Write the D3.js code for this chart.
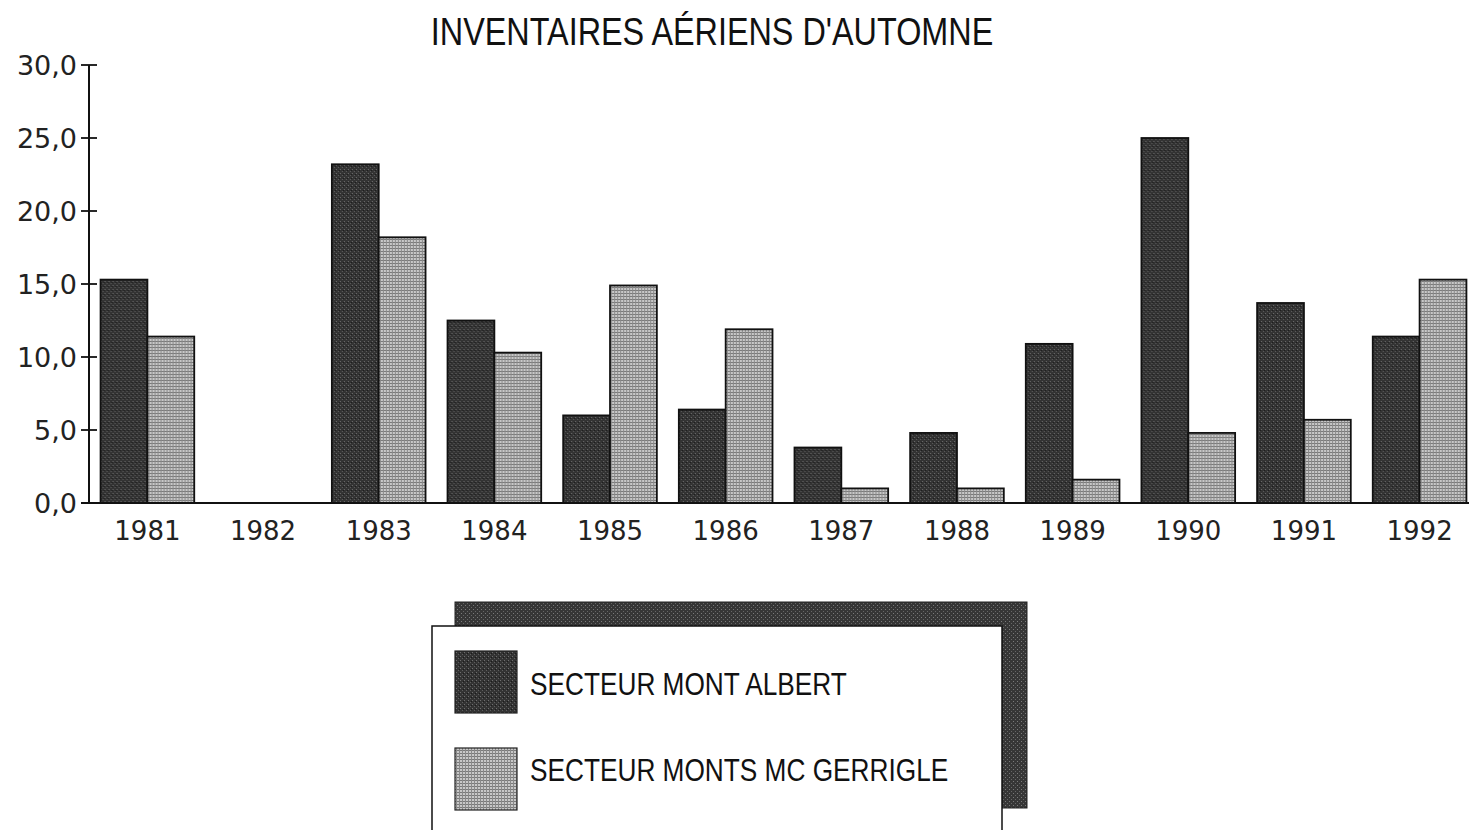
<!DOCTYPE html>
<html>
<head>
<meta charset="utf-8">
<script src="https://d3js.org/d3.v7.min.js"></script>
<style>
	body { margin: 0; background: #fff; }
	svg { display: block; }
	.tick-label { font-family: "DejaVu Sans", "Noto Sans", sans-serif; fill: #222; }
	.narrow { font-family: "Liberation Sans", Arial, sans-serif; fill: #111; }
</style>
</head>
<body>
<div id="chart"></div>
<script>
	var years = ["1981", "1982", "1983", "1984", "1985", "1986", "1987", "1988", "1989", "1990", "1991", "1992"];
	var montAlbert = [15.3, null, 23.2, 12.5, 6.0, 6.4, 3.8, 4.8, 10.9, 25.0, 13.7, 11.4];
	var mcGerrigle = [11.4, null, 18.2, 10.3, 14.9, 11.9, 1.0, 1.0, 1.6, 4.8, 5.7, 15.3];
	var seriesNames = ["SECTEUR MONT ALBERT", "SECTEUR MONTS MC GERRIGLE"];
	var yTicks = [0, 5, 10, 15, 20, 25, 30];

	var W = 1469, H = 830;
	var margin = { top: 65, left: 89, bottom: 327, right: 0 };
	var plotW = 1389, plotH = H - margin.top - margin.bottom;

	// helvetica narrow look: regular sans squeezed horizontally
	var squeeze = 0.83;

	var svg = d3.select("#chart").append("svg")
		.attr("width", W)
		.attr("height", H);

	var defs = svg.append("defs");

	// dark speckled texture
	var pDark = defs.append("pattern")
		.attr("id", "darkFill")
		.attr("width", 4).attr("height", 4)
		.attr("patternUnits", "userSpaceOnUse");
	pDark.append("rect").attr("width", 4).attr("height", 4).attr("fill", "#333");
	pDark.append("rect").attr("x", 0).attr("y", 0).attr("width", 1).attr("height", 1).attr("fill", "#6e6e6e");
	pDark.append("rect").attr("x", 2).attr("y", 2).attr("width", 1).attr("height", 1).attr("fill", "#5e5e5e");
	pDark.append("rect").attr("x", 3).attr("y", 1).attr("width", 1).attr("height", 1).attr("fill", "#1a1a1a");

	// light grid texture
	var pLight = defs.append("pattern")
		.attr("id", "lightFill")
		.attr("width", 3).attr("height", 3)
		.attr("patternUnits", "userSpaceOnUse");
	pLight.append("rect").attr("width", 3).attr("height", 3).attr("fill", "#c8c8c8");
	pLight.append("rect").attr("x", 0).attr("y", 0).attr("width", 3).attr("height", 1).attr("fill", "#7a7a7a");
	pLight.append("rect").attr("x", 0).attr("y", 0).attr("width", 1).attr("height", 3).attr("fill", "#8a8a8a");

	// shadow texture for legend
	var pShadow = defs.append("pattern")
		.attr("id", "shadowFill")
		.attr("width", 4).attr("height", 4)
		.attr("patternUnits", "userSpaceOnUse");
	pShadow.append("rect").attr("width", 4).attr("height", 4).attr("fill", "#363636");
	pShadow.append("rect").attr("x", 1).attr("y", 1).attr("width", 1).attr("height", 1).attr("fill", "#7a7a7a");
	pShadow.append("rect").attr("x", 3).attr("y", 3).attr("width", 1).attr("height", 1).attr("fill", "#666");

	var fills = ["url(#darkFill)", "url(#lightFill)"];

	svg.append("text")
		.attr("class", "narrow")
		.attr("transform", "translate(712,45) scale(" + squeeze + ",1)")
		.attr("text-anchor", "middle")
		.attr("font-size", 39)
		.text("INVENTAIRES AÉRIENS D'AUTOMNE");

	var g = svg.append("g")
		.attr("transform", "translate(" + margin.left + "," + margin.top + ")");

	var x0 = d3.scaleBand().domain(years).range([0, plotW]).paddingInner(0.19).paddingOuter(0.1);
	var x1 = d3.scaleBand().domain([0, 1]).range([0, x0.bandwidth()]);
	var y = d3.scaleLinear().domain([0, 30]).range([plotH, 0]);

	var rows = years.map(function(yr, i) {
		return { year: yr, values: [montAlbert[i], mcGerrigle[i]] };
	});

	var groups = g.selectAll("g.year")
		.data(rows)
		.enter().append("g")
		.attr("class", "year")
		.attr("transform", function(d) { return "translate(" + x0(d.year) + ",0)"; });

	groups.selectAll("rect")
		.data(function(d) {
			return d.values.map(function(v, k) { return { k: k, v: v }; })
				.filter(function(e) { return e.v != null; });
		})
		.enter().append("rect")
		.attr("x", function(d) { return x1(d.k); })
		.attr("y", function(d) { return y(d.v); })
		.attr("width", x1.bandwidth())
		.attr("height", function(d) { return plotH - y(d.v); })
		.attr("fill", function(d) { return fills[d.k]; })
		.attr("stroke", "#111")
		.attr("stroke-width", 1.8);

	// axes
	g.append("line")
		.attr("x1", 0).attr("x2", 0)
		.attr("y1", y(30)).attr("y2", y(0))
		.attr("stroke", "#111").attr("stroke-width", 2);
	g.append("line")
		.attr("x1", -8).attr("x2", plotW)
		.attr("y1", y(0)).attr("y2", y(0))
		.attr("stroke", "#111").attr("stroke-width", 2);

	g.selectAll("line.ytick")
		.data(yTicks)
		.enter().append("line")
		.attr("class", "ytick")
		.attr("x1", -8).attr("x2", 8)
		.attr("y1", function(d) { return y(d); })
		.attr("y2", function(d) { return y(d); })
		.attr("stroke", "#111").attr("stroke-width", 1.8);

	g.selectAll("text.ylab")
		.data(yTicks)
		.enter().append("text")
		.attr("class", "tick-label")
		.attr("font-size", 27)
		.attr("x", -12)
		.attr("y", function(d) { return y(d); })
		.attr("dy", "0.36em")
		.attr("text-anchor", "end")
		.text(function(d) { return d3.format(".1f")(d).replace(".", ","); });

	g.selectAll("text.xlab")
		.data(years)
		.enter().append("text")
		.attr("class", "tick-label")
		.attr("font-size", 26)
		.attr("x", function(d) { return x0(d) + x0.bandwidth() / 2; })
		.attr("y", plotH + 37)
		.attr("text-anchor", "middle")
		.text(function(d) { return d; });

	// legend
	var leg = svg.append("g");
	leg.append("rect")
		.attr("x", 455).attr("y", 602)
		.attr("width", 572).attr("height", 206)
		.attr("fill", "url(#shadowFill)")
		.attr("stroke", "#222").attr("stroke-width", 1);
	leg.append("rect")
		.attr("x", 432).attr("y", 626)
		.attr("width", 570).attr("height", 220)
		.attr("fill", "#fff")
		.attr("stroke", "#111").attr("stroke-width", 1.5);

	var legTops = [651, 748];
	var legBaselines = [695, 781];
	seriesNames.forEach(function(name, k) {
		leg.append("rect")
			.attr("x", 455).attr("y", legTops[k])
			.attr("width", 62).attr("height", 62)
			.attr("fill", fills[k])
			.attr("stroke", "#222").attr("stroke-width", 1.2);
		leg.append("text")
			.attr("class", "narrow")
			.attr("transform", "translate(530," + legBaselines[k] + ") scale(0.82,1)")
			.attr("font-size", 32)
			.text(name);
	});
</script>
</body>
</html>
